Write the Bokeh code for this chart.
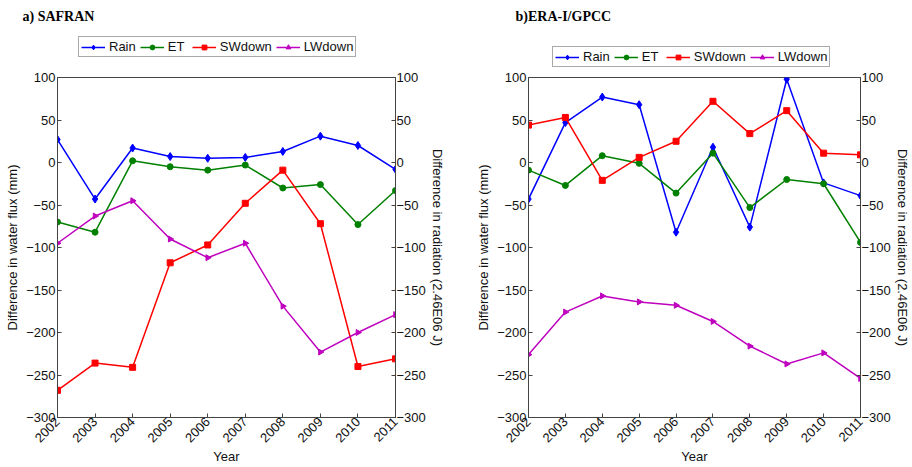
import numpy as np
from bokeh.plotting import figure
from bokeh.models import Range1d, LinearAxis, FixedTicker, Legend, LegendItem, Label
from bokeh.layouts import row, column
from bokeh.embed import file_html
from bokeh.resources import INLINE

years = [2002, 2003, 2004, 2005, 2006, 2007, 2008, 2009, 2010, 2011]

safran_rain = [27, -43, 17, 7, 5, 6, 13, 31, 20, -8]
safran_et = [-70, -82, 2, -5, -9, -3, -30, -26, -73, -33]
safran_sw = [-268, -236, -241, -118, -97, -48, -9, -72, -240, -231]
safran_lw = [-95, -63, -45, -90, -112, -95, -169, -223, -200, -179]

era_rain = [-43, 47, 77, 68, -82, 18, -76, 98, -24, -39]
era_et = [-9, -27, 8, -1, -36, 11, -53, -20, -25, -94]
era_sw = [44, 53, -21, 6, 25, 72, 34, 61, 11, 9]
era_lw = [-226, -176, -157, -164, -168, -187, -216, -237, -224, -254]

y_ticks = [-300, -250, -200, -150, -100, -50, 0, 50, 100]
series_names = ["Rain", "ET", "SWdown", "LWdown"]
series_colors = ["#0000ff", "#008000", "#ff0000", "#bf00bf"]
series_markers = ["diamond", "circle", "square", "triangle"]
series_sizes = [8, 6, 6, 6]
series_angles = [0, 0, 0, -np.pi / 2]
series_ranges = ["default", "default", "rad", "rad"]
titles = ["a) SAFRAN", "b)ERA-I/GPCC"]

FONT = "Liberation Sans"
AX = "#444444"
HEADER_H = 70


def style_axis(ax):
    ax.major_label_text_font = FONT
    ax.major_label_text_font_size = "13px"
    ax.major_label_text_color = "#111111"
    ax.axis_label_text_font = FONT
    ax.axis_label_text_font_size = "13px"
    ax.axis_label_text_font_style = "normal"
    ax.axis_label_text_color = "#111111"
    ax.axis_line_color = AX
    ax.major_tick_line_color = AX
    ax.major_tick_in = 4
    ax.major_tick_out = 0
    ax.minor_tick_line_color = None
    ax.major_label_standoff = 2
    ax.axis_label_standoff = 3


def make_panel(data, borders):
    left, right, top, bottom = borders
    p = figure(width=456, height=467 - HEADER_H, output_backend="svg", toolbar_location=None,
               x_range=Range1d(2002, 2011), y_range=Range1d(-300, 100),
               min_border_left=left, min_border_right=right,
               min_border_top=top, min_border_bottom=bottom)
    p.title.visible = False
    p.extra_y_ranges = {"rad": Range1d(-300, 100)}
    p.grid.visible = False
    p.outline_line_color = AX
    p.background_fill_color = "white"
    p.border_fill_color = "white"

    p.xaxis.ticker = FixedTicker(ticks=years)
    p.xaxis.major_label_overrides = {y: str(y) for y in years}
    p.xaxis.major_label_orientation = np.pi / 4
    p.xaxis.axis_label = "Year"
    p.yaxis.ticker = FixedTicker(ticks=y_ticks)
    p.yaxis.axis_label = "Difference in water flux (mm)"
    style_axis(p.xaxis[0])
    style_axis(p.yaxis[0])
    p.xaxis.axis_label_standoff = 0

    r_ax = LinearAxis(y_range_name="rad", ticker=FixedTicker(ticks=y_ticks),
                      axis_label="Difference in radiation (2.46E06 J)")
    style_axis(r_ax)
    r_ax.major_label_standoff = 1
    r_ax.axis_label_standoff = 1
    p.add_layout(r_ax, "right")

    for vals, marker, size, angle, rng, col in zip(data, series_markers, series_sizes,
                                                   series_angles, series_ranges, series_colors):
        p.line(years, vals, line_color=col, line_width=1.5, y_range_name=rng)
        p.scatter(years, vals, marker=marker, size=size, angle=angle,
                  fill_color=col, line_color=col, y_range_name=rng)
    return p


# header with the two panel titles and legends
header = figure(width=912, height=HEADER_H, output_backend="svg", toolbar_location=None,
                x_axis_type=None, y_axis_type=None,
                x_range=Range1d(0, 1), y_range=Range1d(0, 1),
                min_border_left=0, min_border_right=0, min_border_top=0, min_border_bottom=0)
header.title.visible = False
header.outline_line_color = None
header.grid.visible = False

legend_items = []
for name, marker, size, angle, col in zip(series_names, series_markers, series_sizes,
                                          series_angles, series_colors):
    # legend proxies: styled like the series, with no visible point
    ln = header.line(x=[np.nan, np.nan], y=[np.nan, np.nan], line_color=col, line_width=1.5)
    sc = header.scatter(x=[np.nan], y=[np.nan], marker=marker, size=size, angle=angle,
                        fill_color=col, line_color=col)
    legend_items.append(LegendItem(label=name, renderers=[ln, sc], index=0))

for title, tx, lx, ly in zip(titles, [22, 515], [78, 552], [13, 3]):
    header.add_layout(Label(x=tx, y=HEADER_H - 16, x_units="screen", y_units="screen",
                            text=title, text_font="Liberation Serif", text_font_style="bold",
                            text_font_size="14px", text_color="black",
                            text_baseline="middle", text_align="left"))
    header.add_layout(Legend(items=legend_items, orientation="horizontal", location=(lx, ly),
                             label_text_font=FONT, label_text_font_size="13px",
                             label_text_color="#111111",
                             glyph_width=24, glyph_height=12, label_height=12,
                             label_standoff=4, spacing=4, padding=2, margin=0,
                             border_line_color="#555555", border_line_width=1,
                             background_fill_color="white"), "center")

p1 = make_panel([safran_rain, safran_et, safran_sw, safran_lw], (57, 61, 7, 49))
p2 = make_panel([era_rain, era_et, era_sw, era_lw], (72, 50, 7, 49))

layout = column(header, row(p1, p2))
open("out.html", "w").write(file_html(layout, INLINE))
